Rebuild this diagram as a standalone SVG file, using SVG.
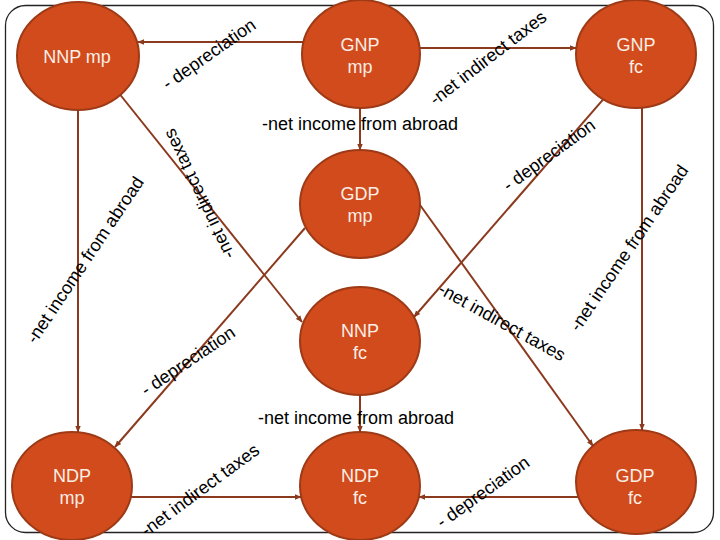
<svg xmlns="http://www.w3.org/2000/svg" width="720" height="540" viewBox="0 0 720 540">
<style>
.node{fill:#d14b1c;stroke:#9e3a16;stroke-width:2}
.nt{font-family:"Liberation Sans",Arial,sans-serif;font-size:18px;fill:#fbeee6;text-anchor:middle}
.lb{font-family:"Liberation Sans",Arial,sans-serif;font-size:18px;fill:#000}
.lc{text-anchor:middle;dominant-baseline:central}
.cn{stroke:#8b3a1e;stroke-width:2;fill:none;marker-end:url(#ah)}
</style>
<defs>
<marker id="ah" viewBox="0 0 10 10" refX="9" refY="5" markerWidth="7" markerHeight="7" markerUnits="userSpaceOnUse" orient="auto">
<path d="M0,1 L10,5 L0,9 Z" fill="#8b3a1e"/>
</marker>
</defs>
<rect x="5.5" y="5.5" width="708" height="527" rx="20" fill="#fff" stroke="#222" stroke-width="1.3"/>
<g id="nodes">
<g id="nnp-mp"><ellipse class="node" cx="78" cy="56" rx="61" ry="54"/><text class="nt" x="77" y="63">NNP mp</text></g>
<g id="gnp-mp"><ellipse class="node" cx="361" cy="54" rx="59" ry="54"/><text class="nt" x="360" y="51">GNP</text><text class="nt" x="360" y="73">mp</text></g>
<g id="gnp-fc"><ellipse class="node" cx="636" cy="54" rx="60" ry="54"/><text class="nt" x="636" y="51">GNP</text><text class="nt" x="636" y="73">fc</text></g>
<g id="gdp-mp"><ellipse class="node" cx="360" cy="204" rx="60" ry="54"/><text class="nt" x="360" y="200">GDP</text><text class="nt" x="360" y="222">mp</text></g>
<g id="nnp-fc"><ellipse class="node" cx="360" cy="341" rx="60" ry="54"/><text class="nt" x="360" y="337">NNP</text><text class="nt" x="360" y="359">fc</text></g>
<g id="ndp-mp"><ellipse class="node" cx="72" cy="486" rx="60" ry="54"/><text class="nt" x="72" y="482">NDP</text><text class="nt" x="72" y="504">mp</text></g>
<g id="ndp-fc"><ellipse class="node" cx="360" cy="486" rx="60" ry="54"/><text class="nt" x="360" y="482">NDP</text><text class="nt" x="360" y="504">fc</text></g>
<g id="gdp-fc"><ellipse class="node" cx="636" cy="482" rx="60" ry="52"/><text class="nt" x="635" y="482">GDP</text><text class="nt" x="635" y="504">fc</text></g>
</g>
<g id="connectors">
<line class="cn" x1="303" y1="42" x2="138" y2="42"/>
<line class="cn" x1="420" y1="48" x2="576" y2="48"/>
<line class="cn" x1="360" y1="108" x2="360" y2="150"/>
<line class="cn" x1="120" y1="94.5" x2="302" y2="322"/>
<line class="cn" x1="78" y1="110" x2="78" y2="432"/>
<line class="cn" x1="642" y1="108" x2="642" y2="430"/>
<line class="cn" x1="603" y1="99.6" x2="414" y2="317"/>
<line class="cn" x1="420" y1="205" x2="593" y2="446"/>
<line class="cn" x1="305" y1="228" x2="115" y2="447"/>
<line class="cn" x1="360" y1="395" x2="360" y2="432"/>
<line class="cn" x1="131" y1="497" x2="301" y2="497"/>
<line class="cn" x1="578" y1="497" x2="419" y2="497"/>
</g>
<g id="labels">
<text class="lb lc" transform="translate(209,54) rotate(-35)">- depreciation</text>
<text class="lb lc" transform="translate(488,58) rotate(-37.6)">-net indirect taxes</text>
<text class="lb" x="262" y="130">-net income from abroad</text>
<text class="lb lc" transform="translate(549,155) rotate(-36)">- depreciation</text>
<text class="lb lc" transform="translate(199,194) rotate(-115.5)">-net indirect taxes</text>
<text class="lb lc" transform="translate(85,260) rotate(-56.2)">-net income from abroad</text>
<text class="lb lc" transform="translate(629,248) rotate(-55.8)">-net income from abroad</text>
<text class="lb lc" transform="translate(502,322) rotate(29)">-net indirect taxes</text>
<text class="lb lc" transform="translate(188,361) rotate(-34)">- depreciation</text>
<text class="lb" x="258" y="424">-net income from abroad</text>
<text class="lb lc" transform="translate(200,490) rotate(-36.5)">-net indirect taxes</text>
<text class="lb lc" transform="translate(483,492) rotate(-35.5)">- depreciation</text>
</g>
</svg>
